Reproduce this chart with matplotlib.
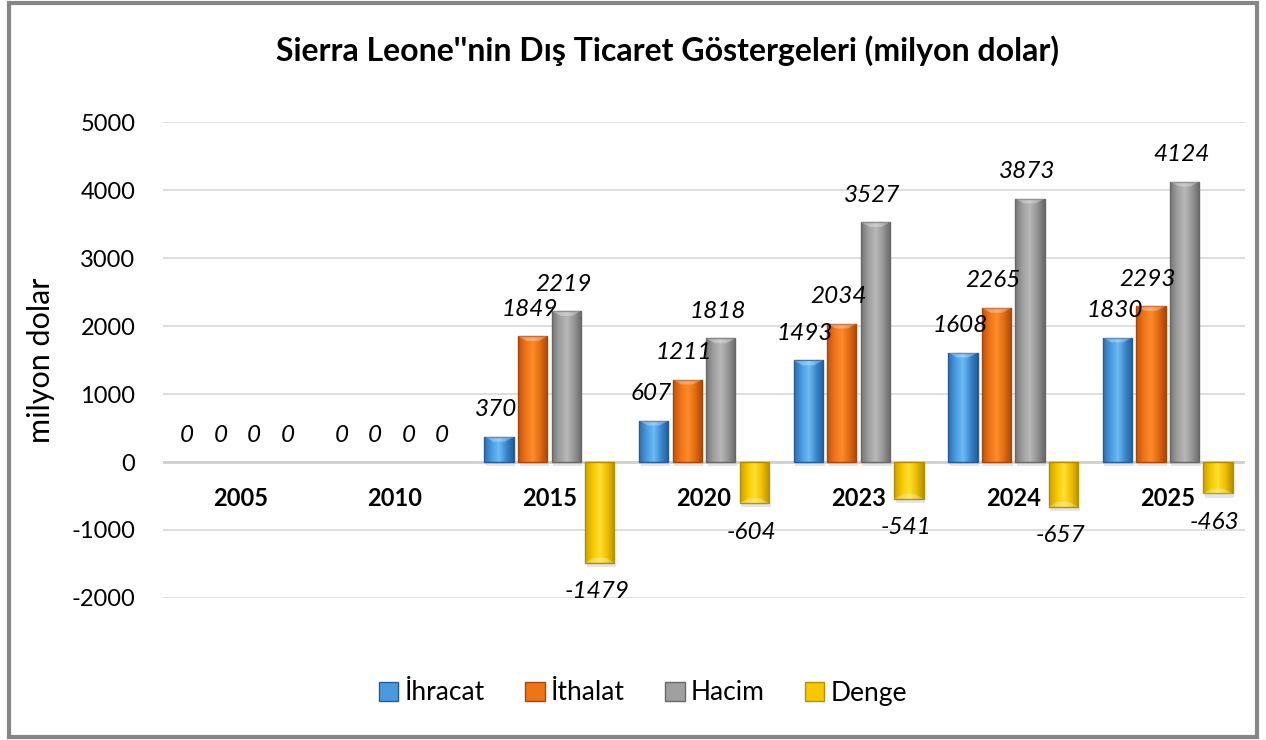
import numpy as np
import matplotlib.pyplot as plt
from matplotlib.patches import Rectangle
from matplotlib.colors import LinearSegmentedColormap

plt.rcParams['font.family'] = ['Lato', 'DejaVu Sans']
plt.rcParams['axes.unicode_minus'] = False

years = ["2005", "2010", "2015", "2020", "2023", "2024", "2025"]
ihracat = [0, 0, 370, 607, 1493, 1608, 1830]
ithalat = [0, 0, 1849, 1211, 2034, 2265, 2293]
hacim = [0, 0, 2219, 1818, 3527, 3873, 4124]
denge = [0, 0, -1479, -604, -541, -657, -463]

series = [
    ("İhracat", ihracat, ("#2f6fae", "#4a9ae0", "#6cbcf5", "#3a86cc", "#245d96")),
    ("İthalat", ithalat, ("#c0530c", "#ee7418", "#ff8c2a", "#e06a12", "#a9470a")),
    ("Hacim", hacim, ("#777777", "#a0a0a0", "#b8b8b8", "#959595", "#686868")),
    ("Denge", denge, ("#c9a200", "#f5c800", "#ffe030", "#eebf00", "#b38f00")),
]

fig = plt.figure(figsize=(12.66, 7.40), dpi=100)
ax = fig.add_axes([0.1288, 0.1919, 0.8546, 0.6432])

x = np.arange(len(years))
width = 0.19
step = 0.217

for i, (name, vals, cols) in enumerate(series):
    cmap = LinearSegmentedColormap.from_list(name, cols)
    grad = np.linspace(0, 1, 64).reshape(1, -1)
    for xi, v in zip(x, vals):
        left = xi + (i - 1.5) * step - width / 2
        if v != 0:
            # soft shadow under the bar
            ax.add_patch(Rectangle((left + 0.01, 0 if v > 0 else v), width, -60,
                                   facecolor="#cccccc", edgecolor="none", alpha=0.5, zorder=2))
            rect = Rectangle((left, 0), width, v, facecolor="none",
                             edgecolor=cols[-1], linewidth=1.0, zorder=4)
            ax.add_patch(rect)
            im = ax.imshow(grad, cmap=cmap, aspect="auto", zorder=3,
                           extent=(left, left + width, min(0, v), max(0, v)))
            im.set_clip_path(rect)
            # bevel on the outer end
            bev = 70 if v > 0 else -70
            ax.fill([left, left + width, left + width * 0.7, left + width * 0.3],
                    [v, v, v - bev, v - bev], color="white", alpha=0.3,
                    zorder=4, linewidth=0)
        dy = 27 if v >= 0 else -29
        ax.annotate(str(v), (left + width / 2, v), xytext=(-3, dy),
                    textcoords="offset pixels", ha="center", va="center",
                    fontsize=17.5, fontstyle="italic", zorder=6, annotation_clip=False)
    ax.add_patch(Rectangle((0, 0), 0, 0, facecolor=cols[1], edgecolor=cols[-1], label=name))

ax.set_xlim(-0.5, len(years) - 0.5)
ax.set_ylim(-2000, 5000)
ax.set_yticks(range(-2000, 5001, 1000))
ax.yaxis.grid(True, color="#d9d9d9", linewidth=1.2)
ax.set_axisbelow(True)
ax.axhline(0, color="#d0d0d0", linewidth=2, zorder=1)
ax.set_xticks([])
for s in ax.spines.values():
    s.set_visible(False)
ax.tick_params(axis="y", length=0, labelsize=17, pad=20)

for xi, yr in zip(x, years):
    ax.text(xi, -530, yr, ha="center", va="center", fontsize=17,
            fontweight="bold", zorder=6)

ax.set_ylabel("milyon dolar", fontsize=22, labelpad=12)

fig.text(0.527, 0.932, "Sierra Leone''nin Dış Ticaret Göstergeleri (milyon dolar)",
         ha="center", va="center", fontsize=23, fontweight="bold")

leg = ax.legend(loc="center", bbox_to_anchor=(643 / 1266, 1 - 693 / 740), bbox_transform=fig.transFigure,
                ncol=4, frameon=False, fontsize=19, handlelength=0.75, handleheight=0.75,
                handletextpad=0.25, columnspacing=1.5)

fig.add_artist(Rectangle((9 / 1266, 3 / 740), 1248 / 1266, 734 / 740, transform=fig.transFigure,
                         fill=False, edgecolor="#868686", linewidth=3))

fig.savefig("out.png", dpi=100)
